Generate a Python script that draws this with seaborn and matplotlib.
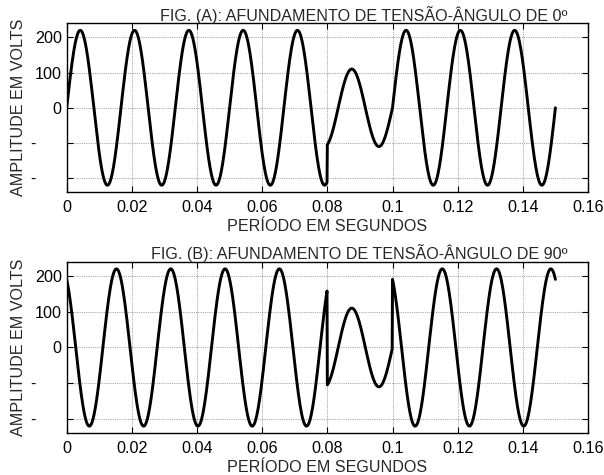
import numpy as np
import pandas as pd
import matplotlib
matplotlib.use("Agg")
import matplotlib.pyplot as plt
import matplotlib.transforms as mtransforms
import seaborn as sns

# Supply and sag parameters
FREQ_HZ = 60
SAMPLE_RATE = 10000
T_END = 0.15
NOMINAL_PEAK = 220
SAG_PEAK = 110
SAG_WINDOW = [0.08, 0.10]
SAG_PHASE_DEG = 0
PHASE_DEG = [0, 120]          # phase of the supply in panels A and B

TITLES = [
    "FIG. (A): AFUNDAMENTO DE TENSÃO-ÂNGULO DE 0º",
    "FIG. (B): AFUNDAMENTO DE TENSÃO-ÂNGULO DE 90º",
]
X_LABEL = "PERÍODO EM SEGUNDOS"
Y_LABEL = "AMPLITUDE EM VOLTS"
X_TICKS = [0, 0.02, 0.04, 0.06, 0.08, 0.10, 0.12, 0.14, 0.16]
X_TICK_LABELS = ["0", "0.02", "0.04", "0.06", "0.08", "0.1", "0.12", "0.14", "0.16"]
Y_TICKS = [-200, -100, 0, 100, 200]
Y_TICK_LABELS = ["-", "-", "0", "100", "200"]
Y_LIMITS = [-240, 240]
X_LIMITS = [0, 0.16]

FS = 11.6


def sag_waveform(phase_deg):
    t = np.arange(0, int(round(T_END * SAMPLE_RATE)) + 1) / SAMPLE_RATE
    w = 2 * np.pi * FREQ_HZ
    v = NOMINAL_PEAK * np.sin(w * t + np.deg2rad(phase_deg))
    in_sag = (t >= SAG_WINDOW[0]) & (t < SAG_WINDOW[1])
    v[in_sag] = SAG_PEAK * np.sin(w * t[in_sag] + np.deg2rad(SAG_PHASE_DEG))
    return pd.DataFrame({"t": t, "v": v})


sns.set_theme(style="ticks")
plt.rcParams["font.family"] = ["Liberation Sans", "DejaVu Sans"]
plt.rcParams["font.size"] = FS

fig = plt.figure(figsize=(6.04, 4.75), dpi=100)
positions = [
    [0.1104, 0.5952, 0.8631, 0.3558],
    [0.1104, 0.0878, 0.8631, 0.3613],
]

for pos, phase, title in zip(positions, PHASE_DEG, TITLES):
    ax = fig.add_axes(pos)
    data = sag_waveform(phase)
    sns.lineplot(data=data, x="t", y="v", ax=ax, color="black", lw=2.1,
                 estimator=None, sort=False)
    ax.set_xlim(*X_LIMITS)
    ax.set_ylim(*Y_LIMITS)
    ax.set_xticks(X_TICKS)
    ax.set_xticklabels(X_TICK_LABELS)
    ax.set_yticks(Y_TICKS)
    ax.set_yticklabels(Y_TICK_LABELS)
    ax.grid(True, linestyle=(0, (1, 1.2)), color="#8a8a8a", lw=0.6)
    ax.tick_params(direction="in", top=True, right=True, length=4, width=0.8,
                   colors="black", labelsize=FS, pad=3.5)
    ax.tick_params(axis="x", pad=5.5)
    for sp in ax.spines.values():
        sp.set_color("black")
        sp.set_linewidth(1.0)
    # negative labels keep only their sign, placed where "-100" would start
    shift = mtransforms.ScaledTranslation(-0.26, 0, fig.dpi_scale_trans)
    for lbl in ax.get_yticklabels():
        if lbl.get_text() == "-":
            lbl.set_transform(lbl.get_transform() + shift)
    ax.set_xlabel(X_LABEL, fontsize=FS, labelpad=3)
    ax.set_ylabel(Y_LABEL, fontsize=FS, labelpad=3)
    ax.text(0.9616, 1.015, title, transform=ax.transAxes, ha="right",
            va="baseline", fontsize=FS)

fig.savefig("out.png", dpi=100)
